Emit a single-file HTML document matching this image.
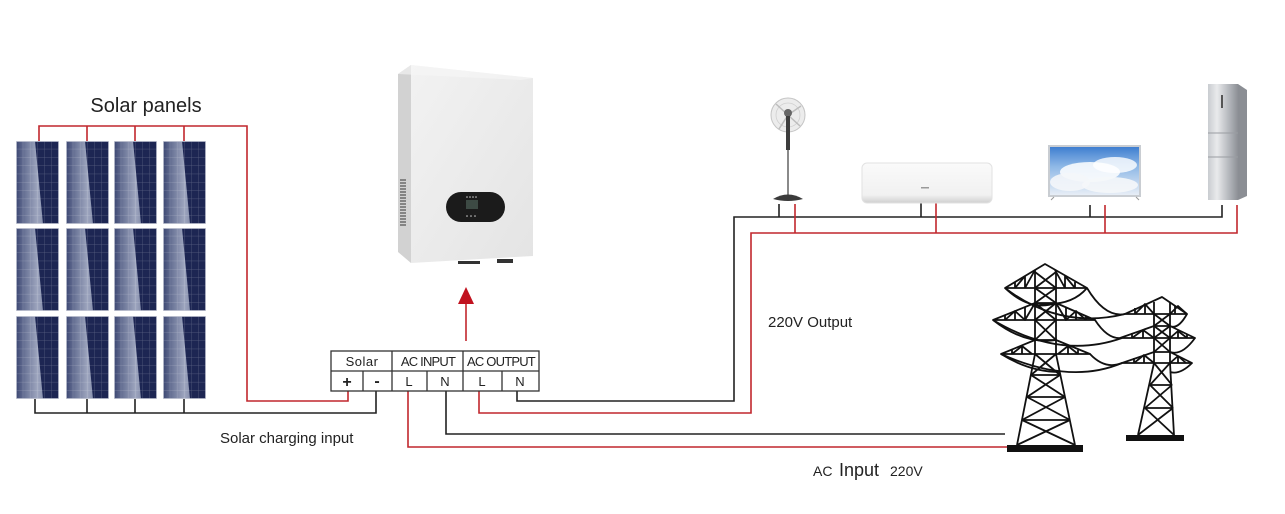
<!DOCTYPE html>
<html><head><meta charset="utf-8"><style>
html,body{margin:0;padding:0;background:#fff;}
svg{display:block;}
text{font-family:"Liberation Sans",sans-serif;}
</style></head><body>
<svg width="1285" height="514" viewBox="0 0 1285 514" xmlns="http://www.w3.org/2000/svg">
<defs>
  <linearGradient id="band" x1="0" y1="0" x2="1" y2="0">
    <stop offset="0" stop-color="#3b4672"/>
    <stop offset="0.35" stop-color="#6d7799"/>
    <stop offset="0.8" stop-color="#9ea6bf"/>
    <stop offset="1" stop-color="#8790ad"/>
  </linearGradient>
  <pattern id="grid" width="7.2" height="8.3" patternUnits="userSpaceOnUse">
    <path d="M7.2 0V8.3M0 8.3H7.2" stroke="#ffffff" stroke-opacity="0.28" stroke-width="0.7" fill="none"/>
  </pattern>
  <g id="panel">
    <rect x="0" y="0" width="43" height="83" fill="#1d2653"/>
    <polygon points="0,0 19,0 27,83 0,83" fill="url(#band)"/>
    <rect x="0" y="0" width="43" height="83" fill="url(#grid)"/>
    <rect x="0.4" y="0.4" width="42.2" height="82.2" fill="none" stroke="#c9ccd8" stroke-width="0.8"/>
  </g>
  <linearGradient id="invFront" x1="0" y1="0" x2="1" y2="1">
    <stop offset="0" stop-color="#f2f2f2"/>
    <stop offset="1" stop-color="#e4e4e4"/>
  </linearGradient>
  <linearGradient id="fridge" x1="0" y1="0" x2="1" y2="0">
    <stop offset="0" stop-color="#c9ccd0"/>
    <stop offset="0.3" stop-color="#e9eaec"/>
    <stop offset="0.7" stop-color="#b4b7bc"/>
    <stop offset="1" stop-color="#8d9096"/>
  </linearGradient>
  <linearGradient id="sky" x1="0" y1="0" x2="0" y2="1">
    <stop offset="0" stop-color="#3f7fd0"/>
    <stop offset="0.4" stop-color="#8db7e6"/>
    <stop offset="1" stop-color="#e8eef6"/>
  </linearGradient>
  <linearGradient id="acg" x1="0" y1="0" x2="0" y2="1">
    <stop offset="0" stop-color="#fafafa"/>
    <stop offset="0.8" stop-color="#f1f1f1"/>
    <stop offset="1" stop-color="#cfcfcf"/>
  </linearGradient>
</defs>

<!-- Title -->
<text x="146" y="112" font-size="20" text-anchor="middle" fill="#222">Solar panels</text>

<!-- Panels -->
<use href="#panel" x="16" y="141"/><use href="#panel" x="66" y="141"/><use href="#panel" x="114" y="141"/><use href="#panel" x="163" y="141"/>
<use href="#panel" x="16" y="228"/><use href="#panel" x="66" y="228"/><use href="#panel" x="114" y="228"/><use href="#panel" x="163" y="228"/>
<use href="#panel" x="16" y="316"/><use href="#panel" x="66" y="316"/><use href="#panel" x="114" y="316"/><use href="#panel" x="163" y="316"/>

<!-- Wiring -->
<g fill="none" stroke-width="1.6">
  <!-- red panel + -->
  <path d="M39 141V126H247V401H348V391" stroke="#c1272d"/>
  <path d="M87 126V141M135 126V141M184 126V141" stroke="#c1272d"/>
  <!-- black panel - -->
  <path d="M35 399V413H376V391" stroke="#222"/>
  <path d="M87 399V413M135 399V413M184 399V413" stroke="#222"/>
  <!-- AC output N -->
  <path d="M517 391V401H734V217H1222V205" stroke="#222"/>
  <path d="M779 204V217M921 203V217M1090 205V217" stroke="#222"/>
  <!-- AC output L -->
  <path d="M479 391V413H751V233H1237V205" stroke="#c1272d"/>
  <path d="M795 204V233M936 203V233M1105 205V233" stroke="#c1272d"/>
  <!-- AC input N -->
  <path d="M446 391V434H1005" stroke="#222"/>
  <!-- AC input L -->
  <path d="M408 391V447H1008" stroke="#c1272d"/>
  <!-- arrow -->
  <path d="M466 341V300" stroke="#c1272d"/>
</g>
<polygon points="458,304 474,304 466,287" fill="#c1121f"/>

<!-- Terminal block -->
<g fill="none" stroke="#333" stroke-width="1.3">
  <rect x="331" y="351" width="208" height="40"/>
  <path d="M331 371H539M392 351V391M463 351V391M363 371V391M427 371V391M502 371V391"/>
</g>
<g font-size="13" fill="#222" text-anchor="middle">
  <text x="362" y="366" letter-spacing="0.5">Solar</text>
  <text x="428" y="366" letter-spacing="-0.8">AC INPUT</text>
  <text x="501" y="366" letter-spacing="-0.8">AC OUTPUT</text>
  <text x="347" y="387" font-size="16" font-weight="bold">+</text>
  <text x="377" y="386" font-size="16" font-weight="bold">-</text>
  <text x="409" y="386">L</text>
  <text x="445" y="386">N</text>
  <text x="482" y="386">L</text>
  <text x="520" y="386">N</text>
</g>

<!-- Labels -->
<text x="220" y="443" font-size="15" fill="#222">Solar charging input</text>
<text x="768" y="327" font-size="15" fill="#222">220V Output</text>
<text x="813" y="476" font-size="14" fill="#222">AC</text>
<text x="839" y="476" font-size="18" fill="#222">Input</text>
<text x="890" y="476" font-size="14" fill="#222">220V</text>

<!-- Inverter -->
<g>
  <polygon points="398,74 411,65 411,263 398,252" fill="#d2d2d2"/>
  <polygon points="411,65 533,78 533,256 411,263" fill="url(#invFront)"/>
  <polygon points="398,74 411,65 533,78 521,80" fill="#f7f7f7" opacity="0.6"/>
  <g stroke="#555" stroke-width="1.2">
    <path d="M400 180h6M400 183h6M400 186h6M400 189h6M400 192h6M400 195h6M400 198h6M400 201h6M400 204h6M400 207h6M400 210h6M400 213h6M400 216h6M400 219h6M400 222h6M400 225h6"/>
  </g>
  <rect x="446" y="192" width="59" height="30" rx="15" fill="#1b1b1b"/>
  <rect x="466" y="200" width="12" height="9" fill="#3d4a44"/>
  <g fill="#ccc"><circle cx="467" cy="197" r="0.8"/><circle cx="470" cy="197" r="0.8"/><circle cx="473" cy="197" r="0.8"/><circle cx="476" cy="197" r="0.8"/>
  <circle cx="467" cy="216" r="0.8"/><circle cx="471" cy="216" r="0.8"/><circle cx="475" cy="216" r="0.8"/></g>
  <rect x="458" y="261" width="22" height="3" fill="#333"/>
  <rect x="497" y="259" width="16" height="4" fill="#333"/>
</g>

<!-- Fan -->
<g>
  <circle cx="788" cy="115" r="17" fill="#ececec" stroke="#c4c4c4" stroke-width="1"/>
  <circle cx="788" cy="115" r="12" fill="none" stroke="#d0d0d0" stroke-width="0.8"/>
  <path d="M788 115L776 104M788 115L801 106M788 115L779 129M788 115L800 126" stroke="#bdbdbd" stroke-width="1.5"/>
  <circle cx="788" cy="113" r="4" fill="#666"/>
  <rect x="786" y="116" width="4" height="34" fill="#3d3d3d"/>
  <rect x="787" y="150" width="2" height="46" fill="#8a8a8a"/>
  <path d="M773 199 Q788 190 803 199 Q788 203 773 199Z" fill="#3b3b3b"/>
</g>

<!-- AC unit -->
<g>
  <rect x="862" y="163" width="130" height="40" rx="5" fill="url(#acg)" stroke="#e2e2e2" stroke-width="1"/>
  <rect x="921" y="187" width="8" height="1.5" fill="#999"/>
</g>

<!-- TV -->
<g>
  <rect x="1048" y="145" width="93" height="52" fill="#c9cdd2"/>
  <rect x="1050" y="147" width="89" height="48" fill="url(#sky)"/>
  <ellipse cx="1090" cy="172" rx="30" ry="10" fill="#fff" opacity="0.85"/>
  <ellipse cx="1115" cy="165" rx="22" ry="8" fill="#fff" opacity="0.8"/>
  <ellipse cx="1070" cy="182" rx="20" ry="9" fill="#f4f6f9" opacity="0.9"/>
  <ellipse cx="1110" cy="185" rx="28" ry="8" fill="#f5f7fa" opacity="0.9"/>
  <path d="M1054 197l-3 3M1136 197l3 3" stroke="#999" stroke-width="1"/>
</g>

<!-- Fridge -->
<g>
  <rect x="1208" y="84" width="30" height="116" fill="url(#fridge)"/>
  <polygon points="1238,84 1247,90 1247,196 1238,200" fill="#8b8e94"/>
  <path d="M1208 133H1238M1208 157H1238" stroke="#9a9da2" stroke-width="1"/>
  <rect x="1221" y="95" width="2" height="13" fill="#555"/>
</g>

<!-- Towers -->
<g fill="none" stroke="#111" stroke-width="1.8" stroke-linejoin="round">
  <!-- big tower arms -->
  <path d="M1005 288L1045 264L1087 288Z"/>
  <path d="M993 320L1035 303H1056L1095 320Z"/>
  <path d="M1001 354L1035 340H1056L1090 354Z"/>
  <!-- arm trusses -->
  <path d="M1015 288V282M1025 288V276M1065 288V276M1075 288V282M1015 288L1025 276M1025 288L1035 270M1055 270L1065 288M1065 276L1075 288"/>
  <path d="M1005 320V315M1015 320V311M1025 320V307M1066 320V307M1076 320V311M1086 320V316M1005 320L1015 311L1025 320L1035 303M1056 303L1066 320L1076 311L1086 320"/>
  <path d="M1012 354V350M1022 354V346M1068 354V346M1078 354V350M1012 354L1022 346L1032 354M1058 354L1068 346L1078 354"/>
  <!-- body -->
  <path d="M1035 270V354M1056 270V354"/>
  <path d="M1035 288L1056 303M1056 288L1035 303M1035 320L1056 340M1056 320L1035 340M1035 272L1056 288M1056 272L1035 288M1035 303L1056 320M1056 303L1035 320"/>
  <!-- legs -->
  <path d="M1035 354L1017 445M1056 354L1075 445"/>
  <path d="M1031 375H1060M1027 397H1065M1022 420H1070"/>
  <path d="M1035 354L1060 375M1056 354L1031 375M1031 375L1065 397M1060 375L1027 397M1027 397L1070 420M1065 397L1022 420M1022 420L1075 445M1070 420L1017 445"/>
  <!-- catenaries under big arms -->
  <path d="M1005 288Q1030 312 1056 303"/>
  <path d="M993 320Q1025 345 1056 340"/>
  <path d="M1001 354Q1030 372 1060 372"/>
  <path d="M1087 288Q1070 308 1035 303"/>
  <!-- wires between towers -->
  <path d="M1087 288Q1105 318 1125 314"/>
  <path d="M1095 320Q1108 340 1122 338"/>
  <path d="M1090 354Q1105 370 1122 363"/>
  <path d="M1005 288Q1060 330 1125 314"/>
  <path d="M993 320Q1060 360 1122 338"/>
  <path d="M1001 354Q1070 385 1122 363"/>

  <!-- small tower -->
  <path d="M1125 314L1162 297L1187 314Z"/>
  <path d="M1120 338L1154 326H1170L1195 338Z"/>
  <path d="M1122 363L1154 352H1170L1192 363Z"/>
  <path d="M1135 314V308M1145 314V304M1175 314V306M1135 314L1145 304L1154 314M1170 314L1178 306L1187 314"/>
  <path d="M1132 338V333M1143 338V330M1178 338V331M1187 338V334M1132 338L1143 330L1154 338M1170 338L1178 331L1187 338"/>
  <path d="M1134 363V358M1144 363V355M1178 363V356M1134 363L1144 355L1154 363M1170 363L1178 356L1186 363"/>
  <path d="M1154 302V363M1170 303V363"/>
  <path d="M1154 314L1170 326M1170 314L1154 326M1154 326L1170 338M1170 326L1154 338M1154 338L1170 352M1170 338L1154 352"/>
  <path d="M1154 363L1138 435M1170 363L1174 435"/>
  <path d="M1150 385H1172M1145 408H1173"/>
  <path d="M1154 363L1172 385M1170 363L1150 385M1150 385L1173 408M1172 385L1145 408M1145 408L1174 435M1173 408L1138 435"/>
  <path d="M1187 314Q1178 330 1170 326"/>
  <path d="M1195 338Q1182 356 1170 352"/>
  <path d="M1192 363Q1180 375 1170 372"/>
</g>
<rect x="1007" y="445" width="76" height="7" fill="#111"/>
<rect x="1126" y="435" width="58" height="6" fill="#111"/>
</svg>
</body></html>
